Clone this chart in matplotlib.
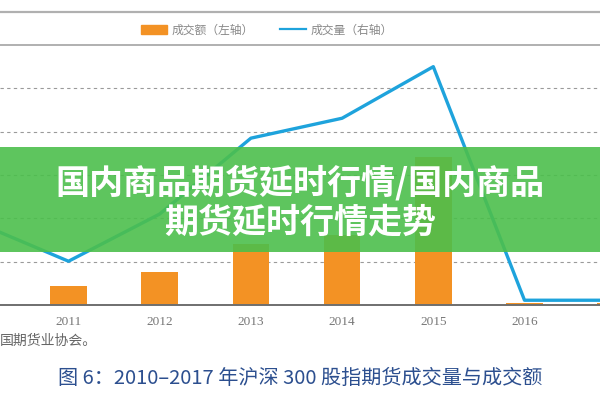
import matplotlib
matplotlib.use("Agg")
import matplotlib.pyplot as plt
from matplotlib.patches import Rectangle, Patch
from matplotlib.lines import Line2D
import numpy as np

plt.rcParams['font.family'] = ['Noto Sans CJK SC', 'DejaVu Sans']

# 数据
years = [2010, 2011, 2012, 2013, 2014, 2015, 2016, 2017]
turnover = [0.25, 0.44, 0.76, 1.41, 1.61, 3.41, 0.05, 0.04]   # 成交额（左轴）
volume = [1.9, 1.01, 2.1, 3.85, 4.31, 5.5, 0.11, 0.11]        # 成交量（右轴）
year_labels = [str(y) for y in years]

bar_color = '#f39224'
line_color = '#1ea3dc'
grid_color = '#9a9a9a'

fig = plt.figure(figsize=(6, 4), dpi=100)
ax = fig.add_axes([0, 1 - 305 / 400, 1, 260 / 400])
ax2 = ax.twinx()

ax.bar(years, turnover, width=0.4, color=bar_color, zorder=2)
ax2.plot(years, volume, color=line_color, lw=2.4, zorder=3)

ax.set_yticks([1, 2, 3, 4, 5])
ax.yaxis.grid(True, linestyle=(0, (3, 3)), color=grid_color, lw=0.8, zorder=0)
ax.tick_params(axis='y', left=False, labelleft=False)
ax2.tick_params(axis='y', right=False, labelright=False)
ax.set_xticks(years)
ax.set_xticklabels(year_labels, family='Liberation Serif', fontsize=9.5, color='#777777')
ax.tick_params(axis='x', length=0, pad=8)

# set_xticks 会扩展范围，所以最后再设
xlim = (2011 - 68.5 / 91.2, 2011 + (600 - 68.5) / 91.2)
for a in (ax, ax2):
    a.set_xlim(*xlim)
    a.set_ylim(0, 6)

for a in (ax, ax2):
    for s in ('left', 'right'):
        a.spines[s].set_visible(False)
    a.spines['top'].set_color('#b0b0b0')
    a.spines['top'].set_linewidth(1.2)
    a.spines['bottom'].set_color('#6e6e6e')
    a.spines['bottom'].set_linewidth(1.2)

# 顶部横线
fig.add_artist(Line2D([0, 1], [1 - 12 / 400] * 2, color='#b0b0b0', lw=1.6))

# 图例
handles = [Patch(color=bar_color, label='成交额（左轴）'),
           Line2D([], [], color=line_color, lw=1.6, label='成交量（右轴）')]
fig.legend(handles=handles, loc='center', bbox_to_anchor=(0.445, 1 - 30 / 400), ncol=2,
           frameon=False, fontsize=8.5, labelcolor='#888888', handlelength=2.2,
           handleheight=0.9, columnspacing=2.2, handletextpad=0.4)

# 来源与标题
fig.text(0.0, 1 - 341 / 400, '国期货业协会。', fontsize=10, color='#666666', va='center')
fig.text(0.5, 1 - 378 / 400, '图 6：2010–2017 年沪深 300 股指期货成交量与成交额',
         fontsize=14.5, color='#2c4f8f', ha='center', va='center')

# 绿色横幅
fig.add_artist(Rectangle((0, 1 - 252 / 400), 1, 105 / 400, transform=fig.transFigure,
                         facecolor='#4cbf4c', alpha=0.9, edgecolor='none', zorder=10))
fig.text(0.5, 1 - 183 / 400, '国内商品期货延时行情/国内商品', fontsize=24.5, fontweight='bold',
         color='white', ha='center', va='center', zorder=11)
fig.text(0.5, 1 - 222 / 400, '期货延时行情走势', fontsize=24.5, fontweight='bold',
         color='white', ha='center', va='center', zorder=11)

fig.savefig('out.png', dpi=100)
